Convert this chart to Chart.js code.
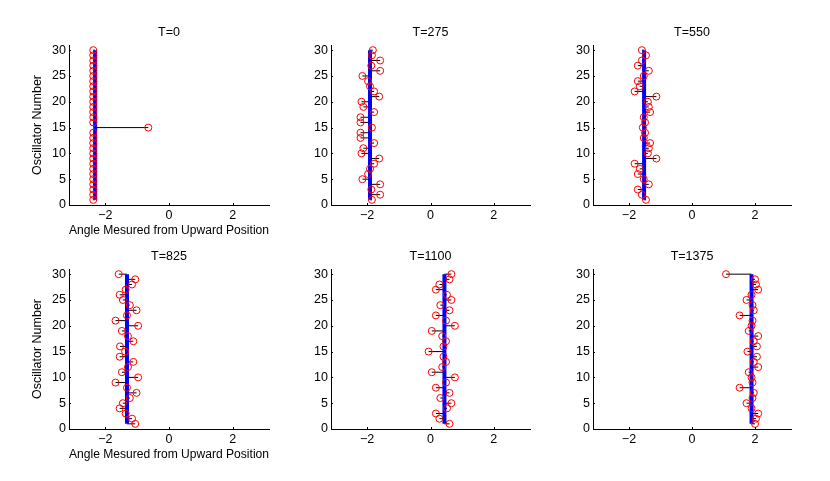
<!DOCTYPE html>
<html>
<head>
<meta charset="utf-8">
<script src="https://cdn.jsdelivr.net/npm/chart.js@4/dist/chart.umd.min.js"></script>
<style>
  body { margin: 0; background: #fff; }
  #fig { position: relative; width: 830px; height: 481px; overflow: hidden; background: #fff; }
  #fig canvas { position: absolute; }
</style>
</head>
<body>
<div id="fig"></div>
<script>
// oscillator index (y axis)
var oscNum = [1, 2, 3, 4, 5, 6, 7, 8, 9, 10, 11, 12, 13, 14, 15,
              16, 17, 18, 19, 20, 21, 22, 23, 24, 25, 26, 27, 28, 29, 30];

// angle of each oscillator at each time
var angleT0 = [-2.38, -2.38, -2.38, -2.38, -2.38, -2.38, -2.38, -2.38, -2.38, -2.38,
               -2.38, -2.38, -2.38, -2.38, -0.65, -2.38, -2.38, -2.38, -2.38, -2.38,
               -2.38, -2.38, -2.38, -2.38, -2.38, -2.38, -2.38, -2.38, -2.38, -2.38];
var angleT275 = [-1.85, -1.59, -1.87, -1.59, -2.15, -1.97, -1.91, -1.78, -1.62, -2.18,
                 -2.12, -1.78, -2.21, -2.21, -1.85, -2.21, -2.21, -1.78, -2.12, -2.18,
                 -1.62, -1.78, -1.91, -1.97, -2.15, -1.59, -1.87, -1.59, -1.85, -1.82];
var angleT550 = [-1.46, -1.59, -1.72, -1.37, -1.53, -1.72, -1.66, -1.82, -1.13, -1.40,
                 -1.37, -1.33, -1.53, -1.49, -1.56, -1.49, -1.53, -1.33, -1.37, -1.40,
                 -1.13, -1.82, -1.66, -1.72, -1.53, -1.37, -1.72, -1.59, -1.46, -1.59];
var angleT825 = [-1.06, -1.16, -1.36, -1.55, -1.45, -1.23, -1.02, -1.32, -1.68, -0.97,
                 -1.48, -1.29, -1.12, -1.55, -1.38, -1.54, -1.12, -1.29, -1.48, -0.97,
                 -1.68, -1.32, -1.02, -1.23, -1.45, -1.55, -1.36, -1.16, -1.06, -1.58];
var angleT1100 = [0.60, 0.28, 0.17, 0.52, 0.66, 0.31, 0.60, 0.17, 0.49, 0.77,
                  0.04, 0.37, 0.49, 0.41, -0.06, 0.41, 0.49, 0.37, 0.04, 0.77,
                  0.49, 0.17, 0.60, 0.31, 0.66, 0.52, 0.17, 0.28, 0.60, 0.66];
var angleT1375 = [2.00, 2.03, 2.10, 1.89, 1.73, 1.92, 1.96, 1.51, 1.92, 1.89,
                  1.80, 2.10, 1.96, 2.06, 1.76, 2.06, 1.96, 2.10, 1.80, 1.89,
                  1.92, 1.51, 1.96, 1.92, 1.73, 1.89, 2.10, 2.03, 2.00, 1.08];

// stem baseline (mean angle) per panel
var baseLines = [-2.32, -1.91, -1.52, -1.32, 0.44, 1.89];
var panelTitles = ["T=0", "T=275", "T=550", "T=825", "T=1100", "T=1375"];
var xTicks = [-2, 0, 2];
var yTicks = [0, 5, 10, 15, 20, 25, 30];

var FONT = "'Liberation Sans', Arial, Helvetica, sans-serif";

// MATLAB-ish bits: title above axes, short inward ticks
var panelTitle = {
    id: "panelTitle",
    afterDraw: function(chart, args, opts) {
        var ctx = chart.ctx, a = chart.chartArea;
        ctx.save();
        ctx.font = "12.5px " + FONT;
        ctx.fillStyle = "#000";
        ctx.textAlign = "center";
        ctx.textBaseline = "middle";
        ctx.fillText(opts.text, (a.left + a.right) / 2, a.top - 12);
        ctx.restore();
    }
};
var inwardTicks = {
    id: "inwardTicks",
    afterDraw: function(chart) {
        var ctx = chart.ctx, a = chart.chartArea;
        var xs = chart.scales.x, ys = chart.scales.y;
        ctx.save();
        ctx.strokeStyle = "#000";
        ctx.lineWidth = 1;
        ctx.beginPath();
        xs.ticks.forEach(function(t) {
            var px = Math.round(xs.getPixelForValue(t.value)) + 0.5;
            ctx.moveTo(px, a.bottom);
            ctx.lineTo(px, a.bottom - 2);
        });
        ys.ticks.forEach(function(t) {
            var py = Math.round(ys.getPixelForValue(t.value)) + 0.5;
            ctx.moveTo(a.left, py);
            ctx.lineTo(a.left + 2, py);
        });
        ctx.stroke();
        ctx.restore();
    }
};

var colLeft = [69, 331, 593];
var colWidth = [200, 199, 198];
var rowTop = [45, 269];
var plotH = 160;

function makePanel(idx, angles, base) {
    var col = idx % 3, row = Math.floor(idx / 3);
    var yw = col === 0 ? 69 : 45;   // width reserved for y axis
    var xh = 45;                     // height reserved for x axis
    var cv = document.createElement("canvas");
    var w = yw + colWidth[col] + 12, h = 30 + plotH + xh;
    cv.width = w; cv.height = h;
    cv.style.left = (colLeft[col] - yw) + "px";
    cv.style.top = (rowTop[row] - 30) + "px";
    document.getElementById("fig").appendChild(cv);

    var stems = [], circles = [];
    for (var i = 0; i < oscNum.length; i++) {
        stems.push({x: base, y: oscNum[i]});
        stems.push({x: angles[i], y: oscNum[i]});
        stems.push({x: null, y: null});
        circles.push({x: angles[i], y: oscNum[i]});
    }

    new Chart(cv.getContext("2d"), {
        type: "scatter",
        data: {
            datasets: [{
                data: circles,
                pointRadius: 3.5,
                pointStyle: "circle",
                borderColor: "#ff0000",
                backgroundColor: "rgba(0,0,0,0)",
                borderWidth: 1,
                order: 0
            }, {
                type: "line",
                data: [{x: base, y: oscNum[0]}, {x: base, y: oscNum[oscNum.length - 1]}],
                borderColor: "#0000ff",
                borderWidth: 4,
                pointRadius: 0,
                borderCapStyle: "butt",
                order: 1
            }, {
                type: "line",
                data: stems,
                borderColor: "#000",
                borderWidth: 1,
                pointRadius: 0,
                spanGaps: false,
                order: 2
            }]
        },
        options: {
            responsive: false,
            animation: false,
            devicePixelRatio: 1,
            layout: { padding: { top: 30, right: 12, left: 0, bottom: 0 } },
            plugins: {
                legend: { display: false },
                tooltip: { enabled: false },
                panelTitle: { text: panelTitles[idx] }
            },
            scales: {
                x: {
                    type: "linear",
                    min: -Math.PI,
                    max: Math.PI,
                    afterBuildTicks: function(s) { s.ticks = xTicks.map(function(v) { return {value: v}; }); },
                    afterFit: function(s) { s.height = xh; },
                    grid: { display: false, drawTicks: false },
                    border: { display: true, color: "#000", width: 1 },
                    ticks: {
                        padding: 3,
                        color: "#000",
                        font: { family: FONT, size: 12.5 },
                        callback: function(v) { return v < 0 ? "\u2212" + Math.abs(v) : String(v); }
                    },
                    title: {
                        display: col === 0,
                        text: "Angle Mesured from Upward Position",
                        color: "#000",
                        font: { family: FONT, size: 12.5 },
                        padding: { top: 0, bottom: 11.5 }
                    }
                },
                y: {
                    type: "linear",
                    min: 0,
                    max: 31,
                    afterBuildTicks: function(s) { s.ticks = yTicks.map(function(v) { return {value: v}; }); },
                    afterFit: function(s) { s.width = yw; },
                    grid: { display: false, drawTicks: false },
                    border: { display: true, color: "#000", width: 1 },
                    ticks: {
                        padding: 3,
                        color: "#000",
                        font: { family: FONT, size: 12.5 }
                    },
                    title: {
                        display: col === 0,
                        text: "Oscillator Number",
                        color: "#000",
                        font: { family: FONT, size: 12.5 },
                        padding: { top: 30, bottom: 0 }
                    }
                }
            }
        },
        plugins: [panelTitle, inwardTicks]
    });
}

var allAngles = [angleT0, angleT275, angleT550, angleT825, angleT1100, angleT1375];
for (var p = 0; p < 6; p++) {
    makePanel(p, allAngles[p], baseLines[p]);
}
</script>
</body>
</html>
